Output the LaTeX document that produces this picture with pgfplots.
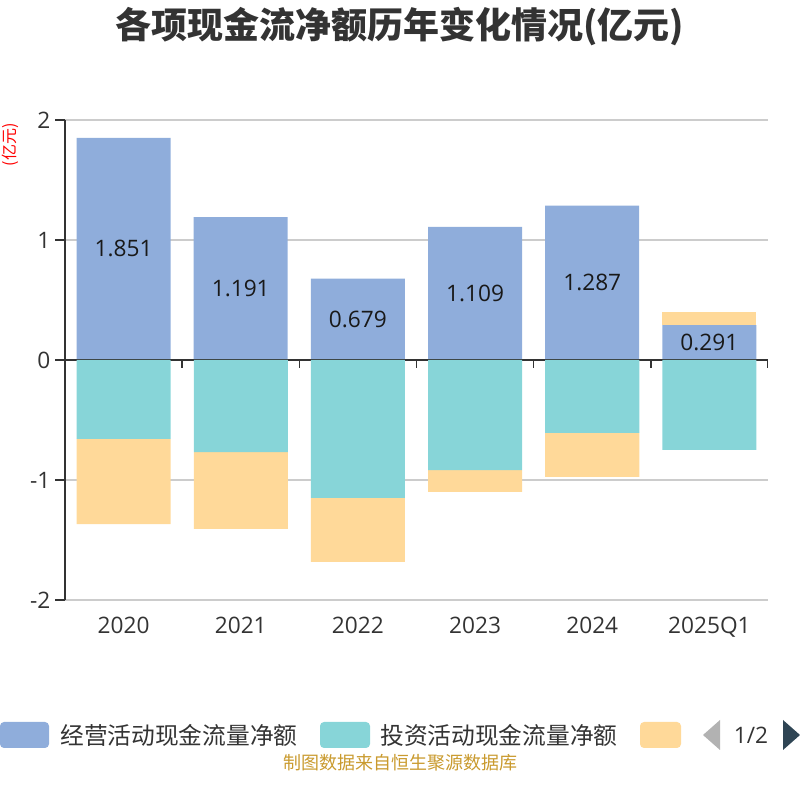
\documentclass[border=0pt]{standalone}
\usepackage{pgfplots}
\pgfplotsset{compat=1.18}
\usepackage{fontspec}
\setmainfont{Open Sans}
\newfontfamily\cjk{Noto Sans CJK SC}
\definecolor{cblue}{HTML}{8FADDB}
\definecolor{cteal}{HTML}{87D5D8}
\definecolor{corange}{HTML}{FFD999}
\definecolor{txt}{HTML}{333333}
\definecolor{gridc}{HTML}{CCCCCC}
\definecolor{foot}{HTML}{C99A2E}
\definecolor{pager}{HTML}{2F4554}
\pgfplotsset{
  mybase/.style={
    scale only axis, width=527.25pt, height=360pt,
    anchor=south west, at={(48.75pt,150pt)},
    xmin=-0.5, xmax=5.5, ymin=-2, ymax=2,
    ybar stacked, bar width=70.5pt,
  }
}
\begin{document}
\begin{tikzpicture}[x=0.75pt,y=0.75pt]
\path[use as bounding box] (0,0) rectangle (800,800);
\node[font=\cjk\bfseries\fontsize{27}{32}\selectfont, text=txt] at (400,773) {各项现金流净额历年变化情况(亿元)};
\node[font=\cjk\fontsize{12}{14}\selectfont, text=red, rotate=90, inner sep=1pt] at (10,655) {(亿元)};

% positive stack: operating + positive financing
\begin{axis}[mybase,
  axis y line*=left, axis x line*=bottom,
  ytick={-2,-1,0,1,2}, yticklabels={-2,-1,0,1,2},
  ymajorgrids, grid style={gridc, line width=1pt},
  y axis line style={txt, line width=1.2pt, -},
  x axis line style={gridc, line width=1pt, -},
  xtick={0,1,2,3,4,5}, xticklabels={2020,2021,2022,2023,2024,2025Q1},
  xtick style={draw=none},
  ytick style={txt, line width=1.2pt},
  tick align=outside, major tick length=7.5pt,
  tick label style={font=\fontsize{17}{20}\selectfont, text=txt},
  xticklabel style={yshift=-2pt},
]
\addplot+[fill=cblue, draw=none,
  nodes near coords={\pgfmathprintnumber[fixed,fixed zerofill,precision=3,assume math mode=true]{\pgfplotspointmeta}},
  every node near coord/.append style={anchor=center, text=black!90,
    font=\fontsize{17}{20}\selectfont},
] coordinates {(0,1.851) (1,1.191) (2,0.679) (3,1.109) (4,1.287) (5,0.291)};
\addplot+[fill=corange, draw=none] coordinates {(0,0) (1,0) (2,0) (3,0) (4,0) (5,0.11)};
\end{axis}

% negative stack: investing + negative financing
\begin{axis}[mybase, hide axis]
\addplot+[fill=cteal, draw=none] coordinates {(0,-0.658) (1,-0.767) (2,-1.15) (3,-0.917) (4,-0.608) (5,-0.75)};
\addplot+[fill=corange, draw=none] coordinates {(0,-0.709) (1,-0.641) (2,-0.533) (3,-0.183) (4,-0.367) (5,0)};
\draw[txt, line width=1.2pt] (axis cs:-0.5,0) -- (axis cs:5.5,0);
\draw[txt, line width=1.2pt] (axis cs:0.5,0) -- ++(0pt,-6pt);
\draw[txt, line width=1.2pt] (axis cs:1.5,0) -- ++(0pt,-6pt);
\draw[txt, line width=1.2pt] (axis cs:2.5,0) -- ++(0pt,-6pt);
\draw[txt, line width=1.2pt] (axis cs:3.5,0) -- ++(0pt,-6pt);
\draw[txt, line width=1.2pt] (axis cs:4.5,0) -- ++(0pt,-6pt);
\draw[txt, line width=1.2pt] (axis cs:5.5,0) -- ++(0pt,-6pt);
\end{axis}

% legend
\fill[cblue, rounded corners=3pt] (0,52) rectangle (49,78);
\node[anchor=west, inner sep=0pt, font=\cjk\fontsize{17.8}{20}\selectfont, text=txt] at (60,65) {经营活动现金流量净额};
\fill[cteal, rounded corners=3pt] (320,52) rectangle (370,78);
\node[anchor=west, inner sep=0pt, font=\cjk\fontsize{17.8}{20}\selectfont, text=txt] at (380,65) {投资活动现金流量净额};
\fill[corange, rounded corners=3pt] (640,52) rectangle (681,78);
\fill[gray!60] (720,50) -- (720,80) -- (703,65) -- cycle;
\node[font=\fontsize{17}{20}\selectfont, text=txt] at (751,65) {1/2};
\fill[pager] (783,50) -- (783,80) -- (800,65) -- cycle;

\node[font=\cjk\fontsize{13.5}{16}\selectfont, text=foot] at (400,37) {制图数据来自恒生聚源数据库};
\end{tikzpicture}
\end{document}
